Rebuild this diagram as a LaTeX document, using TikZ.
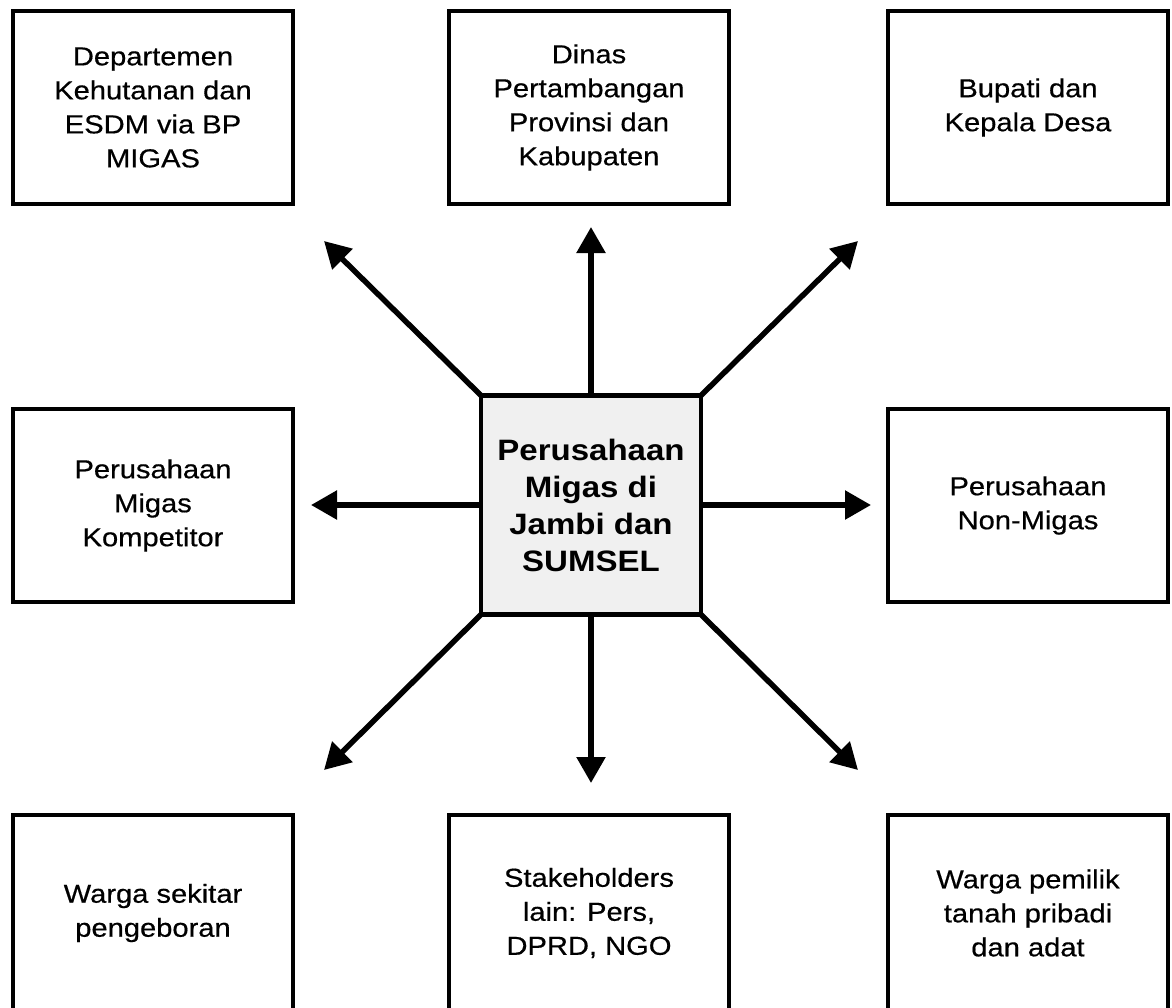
\documentclass[tikz,border=0pt]{standalone}
\usepackage{fontspec}
\setmainfont{Liberation Sans}[FakeStretch=1.12, UprightFeatures={FakeBold=0.5}]
\usetikzlibrary{arrows.meta}
\begin{document}
\begin{tikzpicture}[x=1pt,y=-1pt,
  box/.style={draw=black, line width=3.2pt, fill=white, inner sep=0pt,
    minimum width=280pt, minimum height=193pt, align=center,
    font=\fontsize{26pt}{34pt}\selectfont},
  bottombox/.style={box, minimum height=196pt},
  hub/.style={draw=black, line width=4.5pt, fill=black!6, inner sep=0pt,
    minimum width=220pt, minimum height=219pt, align=center,
    font=\fontsize{29.5pt}{37pt}\selectfont\bfseries},
  link/.style={line width=5.5pt, -{Triangle[length=26pt,width=28pt]}},
  diag/.style={link, shorten <=-3pt}]
\useasboundingbox (0,0) rectangle (1172,1007);

\node[box] (tl) at (153,107.5) {Departemen\\Kehutanan dan\\ESDM via BP\\MIGAS};
\node[box] (tm) at (589,107.5) {Dinas\\Pertambangan\\Provinsi dan\\Kabupaten};
\node[box] (tr) at (1028,107.5) {Bupati dan\\Kepala Desa};
\node[box] (ml) at (153,505.5) {Perusahaan\\Migas\\Kompetitor};
\node[box] (mr) at (1028,505.5) {Perusahaan\\Non-Migas};
\node[bottombox] (bl) at (153,913) {Warga sekitar\\pengeboran};
\node[bottombox] (bm) at (589,913) {Stakeholders\\lain: Pers,\\DPRD, NGO};
\node[bottombox] (br) at (1028,913) {Warga pemilik\\tanah pribadi\\dan adat};

\node[hub] (c) at (591,505) {Perusahaan\\Migas di\\Jambi dan\\SUMSEL};

\coordinate (tN) at (591,227);
\coordinate (tS) at (591,783);
\coordinate (tW) at (311,505);
\coordinate (tE) at (871,505);
\coordinate (tNW) at (324,241);
\coordinate (tNE) at (858,241);
\coordinate (tSW) at (324,770);
\coordinate (tSE) at (858,770);

\draw[link] (c.north) -- (tN);
\draw[link] (c.south) -- (tS);
\draw[link] (c.west) -- (tW);
\draw[link] (c.east) -- (tE);
\draw[diag] (c.north west) -- (tNW);
\draw[diag] (c.north east) -- (tNE);
\draw[diag] (c.south west) -- (tSW);
\draw[diag] (c.south east) -- (tSE);
\end{tikzpicture}
\end{document}
